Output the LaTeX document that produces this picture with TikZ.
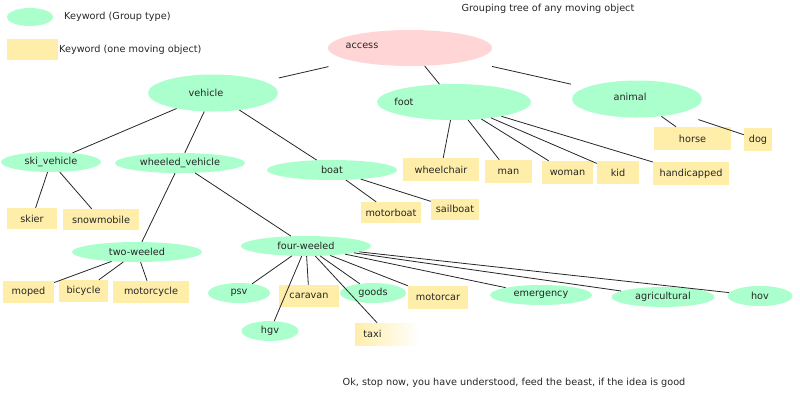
\documentclass[tikz,border=0pt]{standalone}
\usepackage{fontspec}
\setmainfont{DejaVu Sans}
\usepackage{xcolor}
\usepackage{tikz}
\usetikzlibrary{shapes.geometric}
\definecolor{grpgreen}{RGB}{170,255,204}
\definecolor{rootpink}{RGB}{255,213,213}
\definecolor{objyellow}{RGB}{255,238,170}
\tikzset{
  every node/.style={font=\fontsize{9.7}{11}\selectfont, text=black!85},
  note/.style={inner sep=0pt},
}

\begin{document}
\begin{tikzpicture}[
  x=1pt, y=-1pt,
  grp/.style={ellipse, fill=grpgreen, inner sep=0pt,
              minimum width=130pt, minimum height=20pt},
  root/.style={ellipse, fill=rootpink, inner sep=0pt},
  obj/.style={rectangle, fill=objyellow, inner sep=0pt,
              minimum width=60pt, minimum height=22pt},
  link/.style={black!85, line width=0.8pt},
]
  \useasboundingbox (0,0) rectangle (800,400);

  % Legend and title
  \node[grp, minimum width=46pt, minimum height=18pt] (leggrp) at (30,17) {};
  \node[note, anchor=west] (leggrptxt) at (64,17) {Keyword (Group type)};
  \node[obj, minimum width=51pt, minimum height=21pt] (legobj) at (32.5,49.5) {};
  \node[note, anchor=west] (legobjtxt) at (59,50) {Keyword (one moving object)};
  \node[note] (title) at (548,9) {Grouping tree of any moving object};

  % Root and first level
  \node[root, minimum width=164pt, minimum height=36pt,
        label={[xshift=-48pt, yshift=2pt]center:access}] (access) at (410,48) {};
  \node[grp, minimum height=37pt,
        label={[xshift=-7pt]center:vehicle}] (vehicle) at (213,93) {};
  \node[grp, minimum width=154pt, minimum height=36pt,
        label={[xshift=-50pt]center:foot}] (foot) at (454,102) {};
  \node[grp, minimum height=37pt,
        label={[xshift=-7pt, yshift=2pt]center:animal}] (animal) at (637,99) {};

  % Vehicle groups
  \node[grp, minimum width=100pt] (ski)     at (51,162)  {ski\_vehicle};
  \node[grp] (wheeled) at (180,163) {wheeled\_vehicle};
  \node[grp] (boat)    at (332,170) {boat};
  \node[grp] (two)     at (137,252) {two-weeled};
  \node[grp] (four)    at (306,246) {four-weeled};

  % Four-weeled groups
  \node[grp, minimum width=62pt]  (psv)   at (239,293) {psv};
  \node[grp, minimum width=57pt]  (hgv)   at (270,331) {hgv};
  \node[grp, minimum width=66pt]  (goods) at (373,293) {goods};
  \node[grp, minimum width=102pt] (emerg) at (541,295) {emergency};
  \node[grp, minimum width=103pt] (agri)  at (663,297) {agricultural};
  \node[grp, minimum width=65pt]  (hov)   at (760,296) {hov};

  % Single moving objects
  \node[obj, minimum width=50pt, minimum height=21pt] (skier) at (32,218.5) {skier};
  \node[obj, minimum width=76pt, minimum height=21pt] (snowm) at (101,219.5) {snowmobile};
  \node[obj, minimum height=21pt] (motorb) at (391,212.5) {motorboat};
  \node[obj, minimum width=48pt, minimum height=21pt] (sailb) at (455,209) {sailboat};
  \node[obj, minimum width=76pt, minimum height=23pt] (wheelch) at (441,169.5) {wheelchair};
  \node[obj, minimum width=47pt, minimum height=23pt] (man) at (508.5,171.5) {man};
  \node[obj, minimum width=51pt, minimum height=23pt] (woman) at (567.5,172.5) {woman};
  \node[obj, minimum width=42pt, minimum height=23pt] (kid) at (618,172.5) {kid};
  \node[obj, minimum width=76pt, minimum height=23pt] (handi) at (691,173.5) {handicapped};
  \node[obj, minimum width=77pt, minimum height=23pt] (horse) at (692.5,138.5) {horse};
  \node[obj, minimum width=28pt, minimum height=23pt] (dog) at (758,139.5) {dog};
  \node[obj, minimum width=51pt] (moped) at (28.5,292) {moped};
  \node[obj, minimum width=49pt] (bicycle) at (83.5,291) {bicycle};
  \node[obj, minimum width=76pt] (motorc) at (151,292) {motorcycle};
  \node[obj] (caravan) at (309,296) {caravan};
  \node[obj, minimum height=23pt] (motorcar) at (438,297.5) {motorcar};
  \node[obj, minimum width=65pt, fill=none, left color=objyellow,
        right color=white, label={[xshift=-15pt]center:taxi}] (taxi) at (387.5,334) {};

  \node[note] (footer) at (514,383)
    {Ok, stop now, you have understood, feed the beast, if the idea is good};

  % Links (group -> member)
  \draw[link, shorten <=25pt, shorten >=15pt] (access) -- (vehicle);
  \draw[link] (access) -- (foot);
  \draw[link, shorten <=25pt, shorten >=15pt] (access) -- (animal);

  \draw[link] (vehicle) -- (ski);
  \draw[link] (vehicle) -- (wheeled);
  \draw[link] (vehicle) -- (boat);
  \draw[link] (ski) -- (skier);
  \draw[link] (ski) -- (snowm);
  \draw[link] (wheeled) -- (two);
  \draw[link] (wheeled) -- (four);
  \draw[link] (boat) -- (motorb);
  \draw[link] (boat) -- (sailb);

  \draw[link] (foot) -- (wheelch);
  \draw[link] (foot) -- (man);
  \draw[link] (foot) -- (woman);
  \draw[link] (foot) -- (kid);
  \draw[link] (foot) -- (handi);
  \draw[link] (animal) -- (horse);
  \draw[link, shorten <=20pt] (animal) -- (dog);

  \draw[link] (two) -- (moped);
  \draw[link] (two) -- (bicycle);
  \draw[link] (two) -- (motorc);
  \draw[link] (four) -- (psv);
  \draw[link] (four) -- (hgv);
  \draw[link] (four) -- (caravan);
  \draw[link] (four) -- (goods);
  \draw[link] (four) -- (taxi);
  \draw[link] (four) -- (motorcar);
  \draw[link] (four) -- (emerg);
  \draw[link] (four) -- (agri);
  \draw[link] (four) -- (hov);

\end{tikzpicture}
\end{document}
